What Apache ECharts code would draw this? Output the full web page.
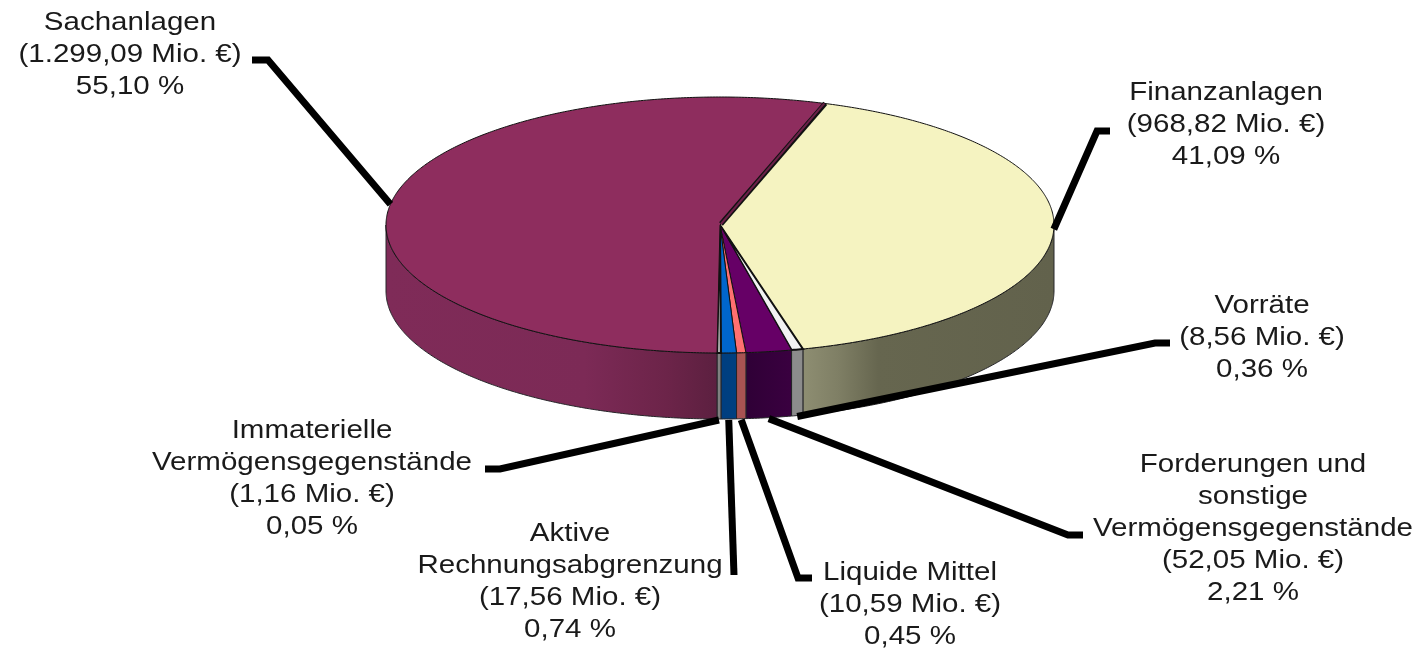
<!DOCTYPE html>
<html><head><meta charset="utf-8">
<style>html,body{margin:0;padding:0;background:#fff}#c{width:1417px;height:650px}</style>
<script src="https://cdn.jsdelivr.net/npm/echarts@6/dist/echarts.min.js"></script>
</head><body><div id="c"></div>
<script>
// ---- data (clockwise from the top boundary) ----
const categories = ['Finanzanlagen','Vorräte','Forderungen und\nsonstige\nVermögensgegenstände','Liquide Mittel','Aktive\nRechnungsabgrenzung','Immaterielle\nVermögensgegenstände','Sachanlagen'];
const valuesMio = [968.82, 8.56, 52.05, 10.59, 17.56, 1.16, 1299.09];
const valueLabels = ['968,82','8,56','52,05','10,59','17,56','1,16','1.299,09'];
const shareLabels = ['41,09','0,36','2,21','0,45','0,74','0,05','55,10'];

// ---- styling and layout ----
const topColors = ['#f5f3c1','#f2f2f2','#660066','#ff7070','#0066cc','#b8b8b8','#8e2d5e'];
const sideStops = [
  [[0,'#8e8e72'],[0.14,'#7f7f65'],[0.3,'#66664f'],[1,'#62624c']],
  [[0,'#8c8c8c'],[1,'#8c8c8c']],
  [[0,'#2f0036'],[1,'#3a0040']],
  [[0,'#a85352'],[1,'#a85352']],
  [[0,'#003e80'],[1,'#004080']],
  [[0,'#808080'],[1,'#808080']],
  [[0,'#7f2b58'],[0.6,'#7c2a56'],[0.85,'#6c2449'],[1,'#5c2040']]
];
const extraDeg = [0,0.7,0,0,0,0.5,0];      // thin slices are drawn a little wider than their share
const startDeg = 18.2;
const pie = {cx:720, cy:225, rx:334, ry:128, depth:66};
// label centre, leader elbow and the leader's outer end
const labelPos = [[1226,125],[1262,338],[1253,529],[910,605],[570,582],[312,479],[130,55]];
const elbows = [[1097,131],[1155,343],[1068,535],[798,578],[734,575],[500,469],[268,60]];
const tails  = [[1110,131],[1170,343],[1083,535],[812,578],null,[485,469],[252,60]];

const total = valuesMio.reduce((a,b)=>a+b,0);
const sumExtra = extraDeg.reduce((a,b)=>a+b,0);
let cursor = startDeg;
const ranges = valuesMio.map((v,i)=>{
  const a = cursor, b = a + v/total*(360-sumExtra) + extraDeg[i];
  cursor = b; return [a,b];
});
const rad = d => d*Math.PI/180;
const rim = (t,dy) => [pie.cx+pie.rx*Math.sin(rad(t)), pie.cy-pie.ry*Math.cos(rad(t))+(dy||0)];
function arc(a,b,dy){
  const n = Math.max(2,Math.ceil(Math.abs(b-a)/0.5)), p=[];
  for(let k=0;k<=n;k++) p.push(rim(a+(b-a)*k/n,dy));
  return p;
}
const seriesData = valuesMio.map((v,i)=>({name:categories[i],value:v}));

function renderSide(params){
  const i = params.dataIndex;
  const a = Math.max(ranges[i][0],90), b = Math.min(ranges[i][1],270);
  if (b<=a) return null;
  const top = arc(a,b,0), bottom = arc(b,a,pie.depth);
  const xs = top.map(p=>p[0]);
  return {type:'polygon', shape:{points:top.concat(bottom)},
    style:{fill:new echarts.graphic.LinearGradient(Math.min(...xs),0,Math.max(...xs),0,
      sideStops[i].map(s=>({offset:s[0],color:s[1]})),true), stroke:'#26262a', lineWidth:1}};
}
function renderTop(params){
  const i = params.dataIndex;
  const pts = [[pie.cx,pie.cy]].concat(arc(ranges[i][0],ranges[i][1],0));
  return {type:'polygon', shape:{points:pts},
    style:{fill:topColors[i], stroke:'#111', lineWidth:i===1||i===5?2:1}};
}
// the cut face of the large slice, seen along its boundary with the first slice
function renderSeam(params){
  if (params.dataIndex!==0) return null;
  const end = rim(ranges[0][0]);
  const from = [pie.cx+1,pie.cy-1];
  return {type:'group',children:[
    {type:'line',shape:{x1:from[0],y1:from[1],x2:end[0]+1,y2:end[1]},style:{stroke:'#111',lineWidth:5}},
    {type:'line',shape:{x1:from[0],y1:from[1],x2:end[0],y2:end[1]},style:{stroke:'#6a2048',lineWidth:2}}
  ]};
}
function renderLeader(params){
  const i = params.dataIndex;
  const mid = (ranges[i][0]+ranges[i][1])/2;
  const norm = ((mid%360)+360)%360;
  const front = norm>=120 && norm<=240;
  const start = rim(mid, front?pie.depth+1:0);
  const pts = [start, elbows[i]];
  if (tails[i]) pts.push(tails[i]);
  return {type:'polyline', shape:{points:pts},
    style:{fill:null, stroke:'#000', lineWidth:7, lineJoin:'miter'}};
}
function renderLabel(params){
  const i = params.dataIndex;
  return {type:'text', x:labelPos[i][0], y:labelPos[i][1], scaleX:1.135,
    style:{text:categories[i]+'\n('+valueLabels[i]+' Mio. €)\n'+shareLabels[i]+' %',
      align:'center', verticalAlign:'middle', fill:'#1a1a1a',
      font:'26px "Liberation Sans", Arial, sans-serif', lineHeight:32}};
}
const common = {type:'custom', coordinateSystem:'none', data:seriesData, silent:true, animation:false};
const chart = echarts.init(document.getElementById('c'),null,{renderer:'canvas'});
chart.setOption({
  animation:false, backgroundColor:'#fff',
  series:[
    Object.assign({},common,{renderItem:renderSide, z:1}),
    Object.assign({},common,{renderItem:renderTop, z:2}),
    Object.assign({},common,{renderItem:renderSeam, z:3}),
    Object.assign({},common,{renderItem:renderLeader, z:4}),
    Object.assign({},common,{renderItem:renderLabel, z:5})
  ]
});
</script></body></html>
